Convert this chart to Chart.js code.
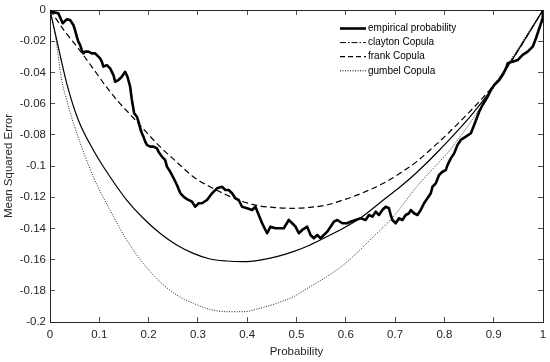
<!DOCTYPE html>
<html><head><meta charset="utf-8">
<script src="https://cdn.jsdelivr.net/npm/chart.js@4/dist/chart.umd.min.js"></script>
<style>html,body{margin:0;padding:0;background:#fff}#wrap{width:550px;height:362px}</style>
</head><body><div id="wrap"><canvas id="c" width="550" height="362"></canvas></div>
<script>
const xTicks = [0, 0.1, 0.2, 0.3, 0.4, 0.5, 0.6, 0.7, 0.8, 0.9, 1];
const xTickLabels = ['0', '0.1', '0.2', '0.3', '0.4', '0.5', '0.6', '0.7', '0.8', '0.9', '1'];
const yTicks = [-0.2, -0.18, -0.16, -0.14, -0.12, -0.1, -0.08, -0.06, -0.04, -0.02, 0];
const yTickLabels = ['-0.2', '-0.18', '-0.16', '-0.14', '-0.12', '-0.1', '-0.08', '-0.06', '-0.04', '-0.02', '0'];
const seriesNames = ['empirical probability', 'clayton Copula', 'frank Copula', 'gumbel Copula'];
const xTitle = 'Probability';
const yTitle = 'Mean Squared Error';

const empirical = [[0,-0.0011],[0.0102,-0.0017],[0.0169,-0.0021],[0.0258,-0.0085],[0.0339,-0.0060],[0.0407,-0.0064],[0.0474,-0.0096],[0.0508,-0.0128],[0.0543,-0.0171],[0.0575,-0.0203],[0.0610,-0.0224],[0.0644,-0.0256],[0.0677,-0.0278],[0.0711,-0.0267],[0.0778,-0.0267],[0.0848,-0.0278],[0.0915,-0.0278],[0.0982,-0.0299],[0.1016,-0.0310],[0.1051,-0.0331],[0.1083,-0.0363],[0.1152,-0.0353],[0.1220,-0.0374],[0.1287,-0.0417],[0.1321,-0.0460],[0.1388,-0.0449],[0.1457,-0.0428],[0.1524,-0.0396],[0.1571,-0.0428],[0.1626,-0.0492],[0.1661,-0.0577],[0.1707,-0.0662],[0.1762,-0.0684],[0.1795,-0.0716],[0.1829,-0.0758],[0.1864,-0.0790],[0.1896,-0.0812],[0.1931,-0.0844],[0.1965,-0.0865],[0.2033,-0.0876],[0.2100,-0.0876],[0.2169,-0.0887],[0.2201,-0.0908],[0.2270,-0.0940],[0.2337,-0.0962],[0.2372,-0.1004],[0.2439,-0.1037],[0.2506,-0.1077],[0.2575,-0.1122],[0.2642,-0.1173],[0.2709,-0.1197],[0.2778,-0.1212],[0.2880,-0.1229],[0.2947,-0.1261],[0.3014,-0.1239],[0.3083,-0.1239],[0.3185,-0.1218],[0.3287,-0.1175],[0.3388,-0.1143],[0.3490,-0.1133],[0.3557,-0.1154],[0.3624,-0.1154],[0.3693,-0.1175],[0.3760,-0.1207],[0.3827,-0.1218],[0.3896,-0.1261],[0.3998,-0.1271],[0.4100,-0.1282],[0.4167,-0.1261],[0.4234,-0.1314],[0.4303,-0.1367],[0.4370,-0.1410],[0.4404,-0.1431],[0.4472,-0.1389],[0.4573,-0.1399],[0.4675,-0.1399],[0.4742,-0.1399],[0.4843,-0.1346],[0.4913,-0.1367],[0.4980,-0.1389],[0.5047,-0.1431],[0.5116,-0.1410],[0.5217,-0.1389],[0.5285,-0.1442],[0.5352,-0.1463],[0.5421,-0.1442],[0.5488,-0.1463],[0.5555,-0.1442],[0.5624,-0.1421],[0.5691,-0.1389],[0.5758,-0.1357],[0.5827,-0.1346],[0.5929,-0.1367],[0.6030,-0.1367],[0.6098,-0.1357],[0.6199,-0.1346],[0.6301,-0.1335],[0.6402,-0.1346],[0.6470,-0.1314],[0.6539,-0.1325],[0.6606,-0.1293],[0.6673,-0.1314],[0.6742,-0.1282],[0.6809,-0.1261],[0.6876,-0.1271],[0.6911,-0.1314],[0.6945,-0.1346],[0.7012,-0.1367],[0.7079,-0.1335],[0.7148,-0.1346],[0.7215,-0.1314],[0.7283,-0.1303],[0.7317,-0.1282],[0.7384,-0.1303],[0.7453,-0.1314],[0.7520,-0.1282],[0.7587,-0.1239],[0.7656,-0.1207],[0.7724,-0.1175],[0.7758,-0.1133],[0.7825,-0.1111],[0.7892,-0.1058],[0.7961,-0.1037],[0.8028,-0.1026],[0.8063,-0.0994],[0.8130,-0.0951],[0.8197,-0.0919],[0.8266,-0.0865],[0.8333,-0.0833],[0.8435,-0.0812],[0.8537,-0.0790],[0.8604,-0.0737],[0.8705,-0.0652],[0.8774,-0.0609],[0.8876,-0.0556],[0.8943,-0.0513],[0.9010,-0.0481],[0.9112,-0.0449],[0.9181,-0.0417],[0.9248,-0.0374],[0.9283,-0.0342],[0.9384,-0.0331],[0.9486,-0.0321],[0.9587,-0.0288],[0.9689,-0.0267],[0.9791,-0.0235],[0.9858,-0.0181],[0.9925,-0.0117],[0.9994,-0.0053],[1,0]];

const clayton = [[0,0],[0.0136,-0.0192],[0.0339,-0.0470],[0.0574,-0.0705],[0.0878,-0.0897],[0.1217,-0.1069],[0.1556,-0.1218],[0.1892,-0.1335],[0.2231,-0.1431],[0.2570,-0.1506],[0.2907,-0.1560],[0.3245,-0.1596],[0.3584,-0.1609],[0.3921,-0.1613],[0.4260,-0.1603],[0.4598,-0.1581],[0.4935,-0.1549],[0.5274,-0.1506],[0.5613,-0.1453],[0.5949,-0.1399],[0.6288,-0.1335],[0.6761,-0.1218],[0.7099,-0.1135],[0.7438,-0.1042],[0.7911,-0.0894],[0.8586,-0.0660],[0.9264,-0.0371],[1,0]];

const frank = [[0,0],[0.0304,-0.0139],[0.0574,-0.0246],[0.0846,-0.0363],[0.1116,-0.0481],[0.1385,-0.0588],[0.1657,-0.0680],[0.1892,-0.0762],[0.2231,-0.0876],[0.2570,-0.0974],[0.2907,-0.1069],[0.3245,-0.1133],[0.3584,-0.1186],[0.3921,-0.1229],[0.4260,-0.1256],[0.4598,-0.1267],[0.4935,-0.1271],[0.5274,-0.1265],[0.5613,-0.1250],[0.5949,-0.1218],[0.6288,-0.1179],[0.6761,-0.1111],[0.7099,-0.1047],[0.7438,-0.0972],[0.7708,-0.0897],[0.7911,-0.0840],[0.8586,-0.0628],[0.8925,-0.0510],[0.9264,-0.0372],[1,0]];

const gumbel = [[0,0],[0.0101,-0.0147],[0.0237,-0.0449],[0.0339,-0.0577],[0.0406,-0.0654],[0.0542,-0.0788],[0.0878,-0.1069],[0.1217,-0.1282],[0.1556,-0.1474],[0.1892,-0.1624],[0.2231,-0.1742],[0.2570,-0.1827],[0.2907,-0.1880],[0.3245,-0.1919],[0.3584,-0.1934],[0.3921,-0.1934],[0.4260,-0.1912],[0.4598,-0.1880],[0.4935,-0.1838],[0.5274,-0.1774],[0.5613,-0.1710],[0.5949,-0.1635],[0.6288,-0.1538],[0.6491,-0.1474],[0.6963,-0.1325],[0.7438,-0.1133],[0.7775,-0.1015],[0.8114,-0.0897],[0.8586,-0.0694],[0.8925,-0.0532],[0.9264,-0.0359],[1,0]];

const toXY = arr => arr.map(p => ({x: p[0], y: p[1]}));
const FONT = "Arial, 'Liberation Sans', sans-serif";
const AXIS_COLOR = '#262626';

const legendDashes = [[], [6, 2, 1.5, 2], [5, 3], [1, 1.5]];
const legendWidths = [2.6, 1, 1.2, 1];

const insideLegend = {
  id: 'insideLegend',
  afterDatasetsDraw(chart) {
    const ctx = chart.ctx;
    const a = chart.chartArea;
    const x0 = a.left + 290, x1 = a.left + 316, tx = a.left + 318;
    let y = a.top + 18.5;
    ctx.save();
    ctx.font = "10px " + FONT;
    ctx.textBaseline = 'middle';
    ctx.textAlign = 'left';
    seriesNames.forEach((name, i) => {
      ctx.beginPath();
      ctx.setLineDash(legendDashes[i]);
      ctx.lineWidth = legendWidths[i];
      ctx.strokeStyle = '#000';
      ctx.moveTo(x0, y);
      ctx.lineTo(x1, y);
      ctx.stroke();
      ctx.setLineDash([]);
      ctx.fillStyle = '#000';
      ctx.fillText(name, tx, y);
      y += 14.1;
    });
    ctx.restore();
  }
};

function gridOpts() {
  return { drawOnChartArea: false, drawTicks: true, tickLength: -5, color: AXIS_COLOR, lineWidth: 0.8 };
}
function fitX(h) { return s => { s.height = h; s.paddingLeft = 0; s.paddingRight = 0; }; }
function fitY(w) { return s => { s.width = w; s.paddingTop = 0; s.paddingBottom = 0; }; }

const ctx = document.getElementById('c').getContext('2d');
new Chart(ctx, {
  type: 'line',
  data: {
    datasets: [
      { label: seriesNames[0], data: toXY(empirical), borderColor: '#000', borderWidth: 2.6, pointRadius: 0, tension: 0, fill: false, borderJoinStyle: 'round' },
      { label: seriesNames[1], data: toXY(clayton), borderColor: '#000', borderWidth: 1.2, pointRadius: 0, cubicInterpolationMode: 'monotone', fill: false },
      { label: seriesNames[2], data: toXY(frank), borderColor: '#000', borderWidth: 1.2, borderDash: [6, 3.5], pointRadius: 0, cubicInterpolationMode: 'monotone', fill: false },
      { label: seriesNames[3], data: toXY(gumbel), borderColor: '#222', borderWidth: 1, borderDash: [1, 1.5], pointRadius: 0, cubicInterpolationMode: 'monotone', fill: false }
    ]
  },
  options: {
    responsive: false,
    animation: false,
    devicePixelRatio: 1,
    layout: { padding: { top: 10, right: 7, left: 0, bottom: 0 } },
    plugins: { legend: { display: false }, tooltip: { enabled: false } },
    scales: {
      x: {
        type: 'linear', position: 'bottom', min: 0, max: 1,
        afterBuildTicks: s => { s.ticks = xTicks.map(v => ({ value: v })); },
        afterFit: fitX(40),
        ticks: { padding: 11, color: AXIS_COLOR, font: { family: FONT, size: 11.5 },
                 callback: v => xTickLabels[xTicks.findIndex(t => Math.abs(t - v) < 1e-9)] },
        grid: gridOpts(),
        border: { display: true, color: AXIS_COLOR, width: 1 },
        title: { display: true, text: xTitle, color: AXIS_COLOR, font: { family: FONT, size: 11.5 }, padding: { top: 0, bottom: 3 } }
      },
      x2: {
        type: 'linear', position: 'top', min: 0, max: 1,
        afterBuildTicks: s => { s.ticks = xTicks.map(v => ({ value: v })); },
        afterFit: fitX(0),
        ticks: { display: false },
        grid: gridOpts(),
        border: { display: true, color: AXIS_COLOR, width: 1 }
      },
      y: {
        type: 'linear', position: 'left', min: -0.2, max: 0,
        afterBuildTicks: s => { s.ticks = yTicks.map(v => ({ value: v })); },
        afterFit: fitY(50),
        ticks: { padding: 9, color: AXIS_COLOR, font: { family: FONT, size: 11.5 },
                 callback: v => yTickLabels[yTicks.findIndex(t => Math.abs(t - v) < 1e-9)] },
        grid: gridOpts(),
        border: { display: true, color: AXIS_COLOR, width: 1 },
        title: { display: true, text: yTitle, color: AXIS_COLOR, font: { family: FONT, size: 11.5 }, padding: { top: 2, bottom: 0 } }
      },
      y2: {
        type: 'linear', position: 'right', min: -0.2, max: 0,
        afterBuildTicks: s => { s.ticks = yTicks.map(v => ({ value: v })); },
        afterFit: fitY(0),
        ticks: { display: false },
        grid: gridOpts(),
        border: { display: true, color: AXIS_COLOR, width: 1 }
      }
    }
  },
  plugins: [insideLegend]
});
</script>
</body></html>
